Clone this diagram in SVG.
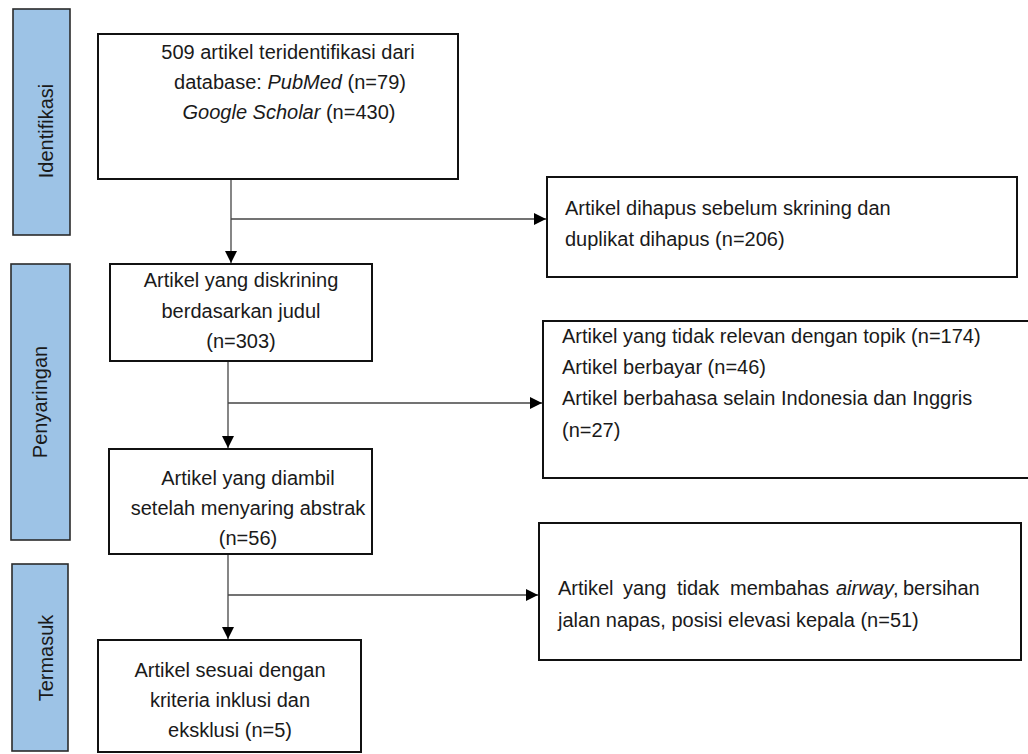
<svg xmlns="http://www.w3.org/2000/svg" width="1028" height="754" viewBox="0 0 1028 754">
<defs>
<style>
.side{fill:#9dc3e6;stroke:#2b2b2b;stroke-width:1.6}
.box{fill:#fff;stroke:#111;stroke-width:2}
.t{font-family:"Liberation Sans",Arial,sans-serif;font-size:20px;fill:#1a1a1a}
.c{text-anchor:middle}
.lbl{font-family:"Liberation Sans",Arial,sans-serif;font-size:20px;fill:#1a1a1a;text-anchor:middle}
.conn{fill:none;stroke:#444;stroke-width:1.3}
</style>
<marker id="ah" markerUnits="userSpaceOnUse" markerWidth="12" markerHeight="12" viewBox="0 0 12 12" refX="12" refY="6" orient="auto">
<path d="M0,0 L12,6 L0,12 z" fill="#000"/>
</marker>
</defs>
<rect width="1028" height="754" fill="#fff"/>

<g id="stage-identifikasi">
<rect class="side" x="13" y="9" width="57" height="226"/>
<text class="lbl" transform="translate(53,131) rotate(-90)">Identifikasi</text>
</g>
<g id="stage-penyaringan">
<rect class="side" x="11" y="264" width="59" height="276"/>
<text class="lbl" transform="translate(47,402) rotate(-90)">Penyaringan</text>
</g>
<g id="stage-termasuk">
<rect class="side" x="12" y="564" width="56" height="187"/>
<text class="lbl" transform="translate(53,658) rotate(-90)">Termasuk</text>
</g>

<g id="connectors">
<path class="conn" d="M231,179 V263" marker-end="url(#ah)"/>
<path class="conn" d="M231,219 H546" marker-end="url(#ah)"/>
<path class="conn" d="M228,361 V448" marker-end="url(#ah)"/>
<path class="conn" d="M228,403 H542" marker-end="url(#ah)"/>
<path class="conn" d="M228,554 V639" marker-end="url(#ah)"/>
<path class="conn" d="M228,595 H538" marker-end="url(#ah)"/>
</g>

<g id="identified">
<rect class="box" x="98" y="34" width="360" height="145"/>
<text class="t c" x="288" y="59">509 artikel teridentifikasi dari</text>
<text class="t c" x="290" y="89">database: <tspan font-style="italic">PubMed</tspan> (n=79)</text>
<text class="t c" x="289" y="119"><tspan font-style="italic">Google Scholar</tspan> (n=430)</text>
</g>

<g id="removed">
<rect class="box" x="547" y="177" width="470" height="100"/>
<text class="t" x="565" y="215">Artikel dihapus sebelum skrining dan</text>
<text class="t" x="565" y="246">duplikat dihapus (n=206)</text>
</g>

<g id="screened">
<rect class="box" x="110" y="264" width="262" height="97"/>
<text class="t c" x="241" y="287">Artikel yang diskrining</text>
<text class="t c" x="241" y="318">berdasarkan judul</text>
<text class="t c" x="241" y="348">(n=303)</text>
</g>

<g id="excluded-screening">
<rect class="box" x="543" y="321" width="490" height="157"/>
<text class="t" x="562" y="343">Artikel yang tidak relevan dengan topik (n=174)</text>
<text class="t" x="562" y="374">Artikel berbayar (n=46)</text>
<text class="t" x="562" y="405">Artikel berbahasa selain Indonesia dan Inggris</text>
<text class="t" x="562" y="437">(n=27)</text>
</g>

<g id="abstract">
<rect class="box" x="109" y="449" width="263" height="105"/>
<text class="t c" x="248" y="485">Artikel yang diambil</text>
<text class="t c" x="248" y="515">setelah menyaring abstrak</text>
<text class="t c" x="248" y="545">(n=56)</text>
</g>

<g id="excluded-abstract">
<rect class="box" x="539" y="523" width="482" height="137"/>
<text class="t" y="595"><tspan x="558">Artikel</tspan><tspan x="623">yang</tspan><tspan x="677">tidak</tspan><tspan x="730">membahas</tspan><tspan x="836" font-style="italic">airway</tspan><tspan x="893">,</tspan><tspan x="903">bersihan</tspan></text>
<text class="t" x="558" y="627">jalan napas, posisi elevasi kepala (n=51)</text>
</g>

<g id="included">
<rect class="box" x="98" y="640" width="263" height="112"/>
<text class="t c" x="230" y="677">Artikel sesuai dengan</text>
<text class="t c" x="230" y="707">kriteria inklusi dan</text>
<text class="t c" x="230" y="737">eksklusi (n=5)</text>
</g>
</svg>
